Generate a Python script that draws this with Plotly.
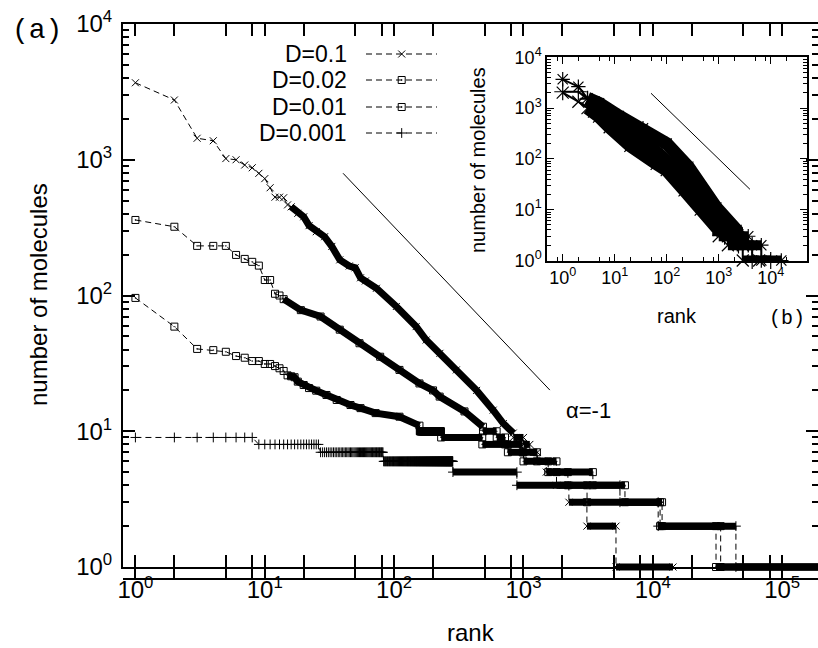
import plotly.graph_objects as go

# ---------------- main panel data (rank vs number of molecules) ----------------
# D=0.1  (x markers): read points along the curve
d01_rank = [1, 2, 3, 4, 5, 6, 7, 8, 9, 10, 11, 12, 13, 14, 15, 16, 18, 20, 22, 25, 29, 33, 38, 45, 50, 55, 60, 73,
            104, 148, 177, 226, 303, 434, 583, 699, 834]
d01_val = [3690, 2755, 1440, 1380, 1020, 1000, 915, 873, 794, 726, 622, 530, 530, 525, 465, 450, 403, 380, 327, 295,
           271, 230, 183, 165, 160, 135, 128, 113, 83, 59, 47, 37.5, 28.3, 20, 14.3, 11.4, 9.7]
# tail plateaus: level and last rank having that level
d01_tail_level = [9, 8, 7, 6, 5, 4, 3, 2, 1]
d01_tail_end = [1000, 1120, 1280, 1500, 1800, 2244, 3093, 5190, 14320]

# D=0.02 (squares)
d002_rank = [1, 2, 3, 4, 5, 6, 7, 8, 9, 10, 11, 12, 13, 14, 19, 27, 38, 54, 78, 110, 157, 200, 225, 350, 486]
d002_val = [360, 321, 232, 232, 232, 199, 186, 177, 166, 130, 130, 103, 100, 94, 78, 70, 56, 44.5, 35.4, 28.3, 22.5,
            20, 18, 14, 10.8]
d002_tail_level = [10, 9, 8, 7, 6, 5, 4, 3, 2, 1]
d002_tail_end = [620, 720, 984, 1270, 1553, 2205, 3100, 11380, 30800, 250000]

# D=0.01 (squares)
d001_rank = [1, 2, 3, 4, 5, 6, 7, 8, 9, 10, 11, 12, 13, 14, 15, 16, 17, 18, 20, 22, 25, 30, 36, 46, 55, 72, 110, 157]
d001_val = [96, 59, 40.4, 39.6, 38.5, 35.8, 34.8, 32.9, 32.9, 31.3, 31.3, 30.2, 29.1, 27.8, 25.8, 25.4, 25, 23.2,
            21.9, 20.8, 19.9, 18.5, 17, 15.6, 14.8, 13.6, 12.8, 11]
d001_tail_level = [10, 9, 8, 7, 6, 5, 4, 3, 2, 1]
d001_tail_end = [230, 480, 757, 1000, 1800, 3440, 6090, 11790, 33460, 250000]

# D=0.001 (plus markers): only plateaus
d0001_rank = []
d0001_val = []
d0001_tail_level = [9, 8, 7, 6, 5, 4, 3, 2, 1]
d0001_tail_end = [8, 26, 82, 284, 889, 5570, 11000, 43900, 250000]

series_labels = ["D=0.1", "D=0.02", "D=0.01", "D=0.001"]

# reference power law alpha=-1
alpha_rank = [40.3, 1600]
alpha_val = [795, 20.1]

# ---------------- inset data ----------------
ins_x_rank = [1, 2, 3, 4, 5, 8, 20, 64, 100, 220, 450, 1000]
ins_x_val = [2010, 1336, 1000, 850, 680, 420, 180, 80, 60, 24, 10, 4]
ins_x_tail_level = [3, 2, 1]
ins_x_tail_end = [1500, 2900, 6000]

ins_p_rank = [1, 2, 3, 5, 8, 20, 50, 130, 280, 560, 1300]
ins_p_val = [2100, 2100, 1500, 1100, 800, 320, 170, 70, 27, 11, 4]
ins_p_tail_level = [3, 2, 1]
ins_p_tail_end = [2400, 4400, 10000]

ins_s_rank = [1, 2, 3, 5, 12, 35, 100, 260, 460, 900, 2200]
ins_s_val = [3690, 2640, 1560, 1250, 700, 400, 200, 70, 27, 11, 4]
ins_s_tail_level = [3, 2, 1]
ins_s_tail_end = [3700, 6600, 16000]

ins_alpha_rank = [49.9, 3990]
ins_alpha_val = [1960, 25.2]

# ticks
dec_vals = [1, 10, 100, 1000, 10000, 100000]
dec_text = ["10<sup>%d</sup>" % i for i in range(6)]
x_minor = [m * d for d in [0.1, 1, 10, 100, 1000, 10000, 100000] for m in (2, 5, 8)]
y_minor = [m * d for d in [1, 10, 100, 1000] for m in range(2, 10)]

FONT = "Liberation Sans"
MONO = "Liberation Mono"

# pixel geometry of the main frame
L, T, B = 123, 24, 567          # left, top, bottom (x-axis) of main frame
BX = 578                        # bottom of drawing area (marks may overhang the x-axis)
PW, PH = 818 - L, BX - T
DEC_Y = (B - T) / 4.0           # pixels per decade on main y


def px(x):
    return (x - L) / PW


def py(y):
    return (BX - y) / PH


def build(rank, val, tail_level, tail_end, expand_max=400):
    lx, ly = list(rank), list(val)
    mx, my = list(rank), list(val)
    bx, by = [], []
    start = (rank[-1] + 1) if rank else 1
    for lev, end in zip(tail_level, tail_end):
        lx += [start, end]
        ly += [lev, lev]
        if end <= expand_max:
            r = list(range(start, end + 1))
            mx += r
            my += [lev] * len(r)
        else:
            bx += [start, end, None]
            by += [lev, lev, None]
            mx += [start, end]
            my += [lev, lev]
        start = end + 1
    return lx, ly, mx, my, bx, by


fig = go.Figure()

main_specs = [
    (d01_rank, d01_val, d01_tail_level, d01_tail_end, "x-thin", "rgba(0,0,0,0)", 16),
    (d002_rank, d002_val, d002_tail_level, d002_tail_end, "square-open-dot", "black", 14),
    (d001_rank, d001_val, d001_tail_level, d001_tail_end, "square-open-dot", "black", 15),
    (d0001_rank, d0001_val, d0001_tail_level, d0001_tail_end, "cross-thin", "rgba(0,0,0,0)", 1),
]

for rank, val, tl, te, sym, mcol, band_from in main_specs:
    lx, ly, mx, my, bx, by = build(rank, val, tl, te)
    brx = [r for r in rank if r >= band_from]
    bry = [v for r, v in zip(rank, val) if r >= band_from]
    if brx:
        fig.add_trace(go.Scatter(x=brx, y=bry, mode="lines", line=dict(color="black", width=7),
                                 xaxis="x", yaxis="y5", showlegend=False, hoverinfo="skip"))
    fig.add_trace(go.Scatter(x=bx, y=by, mode="lines", line=dict(color="black", width=7),
                             connectgaps=False, xaxis="x", yaxis="y5", showlegend=False, hoverinfo="skip"))
    fig.add_trace(go.Scatter(x=lx, y=ly, mode="lines", line=dict(color="black", width=1, dash="6px,4px"),
                             xaxis="x", yaxis="y5", showlegend=False, hoverinfo="skip"))
    fig.add_trace(go.Scatter(x=mx, y=my, mode="markers",
                             marker=dict(symbol=sym, size=7, color=mcol,
                                         line=dict(color="black", width=1)),
                             xaxis="x", yaxis="y5", showlegend=False, hoverinfo="skip"))

fig.add_trace(go.Scatter(x=alpha_rank, y=alpha_val, mode="lines", line=dict(color="black", width=1),
                         xaxis="x", yaxis="y5", showlegend=False, hoverinfo="skip"))

# dummy traces so the frame axes are drawn
fig.add_trace(go.Scatter(x=[None], y=[None], xaxis="x", yaxis="y", showlegend=False, hoverinfo="skip"))
fig.add_trace(go.Scatter(x=[None], y=[None], xaxis="x", yaxis="y3", showlegend=False, hoverinfo="skip"))

# ---------------- inset traces ----------------
ins_specs = [
    (ins_x_rank, ins_x_val, ins_x_tail_level, ins_x_tail_end, "x-thin"),
    (ins_p_rank, ins_p_val, ins_p_tail_level, ins_p_tail_end, "cross-thin"),
    (ins_s_rank, ins_s_val, ins_s_tail_level, ins_s_tail_end, "asterisk"),
]
for rank, val, tl, te, sym in ins_specs:
    lx, ly, mx, my, bx, by = build(rank, val, tl, te, expand_max=0)
    brx = [r for r in rank if r >= 3] + [bx[0]]
    bry = [v for r, v in zip(rank, val) if r >= 3] + [by[0]]
    fig.add_trace(go.Scatter(x=brx, y=bry, mode="lines", line=dict(color="black", width=13),
                             xaxis="x2", yaxis="y2", showlegend=False, hoverinfo="skip"))
    fig.add_trace(go.Scatter(x=bx, y=by, mode="lines", line=dict(color="black", width=10),
                             xaxis="x2", yaxis="y2", showlegend=False, hoverinfo="skip"))
    fig.add_trace(go.Scatter(x=lx, y=ly, mode="lines", line=dict(color="black", width=2),
                             xaxis="x2", yaxis="y2", showlegend=False, hoverinfo="skip"))
    fig.add_trace(go.Scatter(x=mx, y=my, mode="markers", cliponaxis=False,
                             marker=dict(symbol=sym, size=12, color="black",
                                         line=dict(color="black", width=1.2)),
                             xaxis="x2", yaxis="y2", showlegend=False, hoverinfo="skip"))

fig.add_trace(go.Scatter(x=ins_alpha_rank, y=ins_alpha_val, mode="lines", line=dict(color="black", width=1),
                         xaxis="x2", yaxis="y2", showlegend=False, hoverinfo="skip"))

# ---------------- legend (drawn on a pixel-coordinate overlay) ----------------
leg_y = [54, 80, 107, 133]
leg_sym = ["x-thin", "square-open-dot", "square-open-dot", "cross-thin"]
leg_col = ["rgba(0,0,0,0)", "black", "black", "rgba(0,0,0,0)"]
for yc, sym, mc in zip(leg_y, leg_sym, leg_col):
    fig.add_trace(go.Scatter(x=[366, 437], y=[yc, yc], mode="lines",
                             line=dict(color="black", width=1, dash="6px,4px"),
                             xaxis="x4", yaxis="y4", showlegend=False, hoverinfo="skip"))
    fig.add_trace(go.Scatter(x=[401.7], y=[yc], mode="markers",
                             marker=dict(symbol=sym, size=7, color=mc,
                                         line=dict(color="black", width=1)),
                             xaxis="x4", yaxis="y4", showlegend=False, hoverinfo="skip"))

ann = []
for yc, lab in zip(leg_y, series_labels):
    ann.append(dict(text=lab, x=px(349), y=py(yc), xref="paper", yref="paper", xanchor="right",
                    yanchor="middle", showarrow=False, font=dict(family=FONT, size=23, color="black")))
ann += [
    dict(text="(a)", x=px(10), y=py(31), xref="paper", yref="paper", xanchor="left", yanchor="middle",
         showarrow=False, font=dict(family=MONO, size=28, color="black")),
    dict(text="(b)", x=px(807), y=py(318), xref="paper", yref="paper", xanchor="right", yanchor="middle",
         showarrow=False, font=dict(family=MONO, size=20, color="black")),
    dict(text="\u03b1=-1", x=px(588), y=py(410), xref="paper", yref="paper", xanchor="center",
         yanchor="middle", showarrow=False, font=dict(family=FONT, size=22, color="black")),
    dict(text="rank", x=px(471), y=py(632), xref="paper", yref="paper", xanchor="center", yanchor="middle",
         showarrow=False, font=dict(family=FONT, size=24, color="black")),
    dict(text="number of molecules", x=px(38), y=py(295), xref="paper", yref="paper", xanchor="center",
         yanchor="middle", textangle=-90, showarrow=False, font=dict(family=FONT, size=24, color="black")),
    dict(text="rank", x=px(677), y=py(316), xref="paper", yref="paper", xanchor="center", yanchor="middle",
         showarrow=False, font=dict(family=FONT, size=20, color="black")),
    dict(text="number of molecules", x=px(478), y=py(160), xref="paper", yref="paper", xanchor="center",
         yanchor="middle", textangle=-90, showarrow=False, font=dict(family=FONT, size=20, color="black")),
]

axis_common = dict(type="log", showgrid=False, zeroline=False, ticks="inside", tickcolor="black",
                   showline=True, linecolor="black")

fig.update_layout(
    width=818, height=648,
    margin=dict(l=L, r=0, t=T, b=648 - BX, pad=0),
    paper_bgcolor="white", plot_bgcolor="rgba(0,0,0,0)",
    showlegend=False,
    font=dict(family=FONT, color="black"),
    xaxis=dict(axis_common, domain=[0, 1], range=[-0.096, 5.277], tickvals=dec_vals, ticktext=dec_text,
               ticklen=12, tickwidth=1.5, linewidth=2, mirror="allticks",
               minor=dict(tickvals=x_minor, ticks="inside", ticklen=6, tickwidth=1.5, tickcolor="black"),
               tickfont=dict(family=FONT, size=24, color="black"), anchor="y"),
    yaxis=dict(axis_common, domain=[py(B), 1], range=[0, 4], tickvals=dec_vals[:5], ticktext=dec_text[:5],
               ticklen=12, tickwidth=1.5, linewidth=2, mirror=False,
               minor=dict(tickvals=y_minor, ticks="inside", ticklen=6, tickwidth=1.5, tickcolor="black"),
               tickfont=dict(family=FONT, size=24, color="black"), anchor="x", ticklabelstandoff=4),
    yaxis3=dict(type="log", range=[0, 4], overlaying="y", side="right", anchor="x", showgrid=False,
                zeroline=False, showline=False, showticklabels=False, ticks="inside", ticklen=12,
                tickwidth=1.5, tickcolor="black", tickvals=dec_vals[:5],
                minor=dict(tickvals=y_minor, ticks="inside", ticklen=6, tickwidth=1.5, tickcolor="black")),
    # data scale sharing the frame's y scale but extending a few pixels below the x-axis
    yaxis5=dict(type="log", domain=[0, 1], range=[-(BX - B) / DEC_Y, 4], anchor="x", visible=False),
    xaxis2=dict(axis_common, domain=[px(547), px(807)], range=[-0.302, 4.698], anchor="y2",
                tickvals=dec_vals[:5], ticktext=dec_text[:5], ticklen=7, tickwidth=1.2, linewidth=1.5,
                mirror="allticks",
                minor=dict(tickvals=x_minor, ticks="inside", ticklen=4, tickwidth=1.2, tickcolor="black"),
                tickfont=dict(family=FONT, size=18, color="black")),
    yaxis2=dict(axis_common, domain=[py(260.5), py(57.3)], range=[0, 4], anchor="x2",
                tickvals=dec_vals[:5], ticktext=dec_text[:5], ticklen=7, tickwidth=1.2, linewidth=1.5,
                mirror="allticks",
                minor=dict(tickvals=y_minor, ticks="inside", ticklen=4, tickwidth=1.2, tickcolor="black"),
                tickfont=dict(family=FONT, size=18, color="black")),
    xaxis4=dict(domain=[0, 1], range=[L, 818], visible=False, anchor="y4"),
    yaxis4=dict(domain=[0, 1], range=[BX, T], visible=False, anchor="x4"),
    annotations=ann,
)

fig.write_html("out.html", config={"displayModeBar": False},
               post_script="document.body.style.margin='0px';")
